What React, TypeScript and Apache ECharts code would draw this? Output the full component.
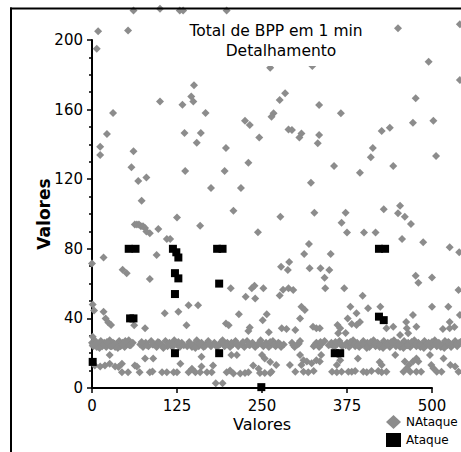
import React, { useEffect, useRef } from "react";
import * as echarts from "echarts";

// ---------- data ----------
const seriesNames = ["NAtaque", "Ataque"];
const xTickInterval = 125;
const yTickInterval = 40;
const xMax = 500;
const yMax = 200;
const xAxisTitle = "Valores";
const yAxisTitle = "Valores";
const titleLine1 = "Total de BPP em 1 min";
const titleLine2 = "Detalhamento";

// NAtaque (gray diamonds), upper part of the cloud
const nAtaqueHigh: number[][] = [
  [61, 217], [100, 218], [129, 217], [134, 217], [198, 217], [541, 209],
  [9, 205], [53, 205.5], [7, 195], [450, 206.7], [495, 187.5], [541, 177],
  [262, 184], [324, 185],
  [150, 174], [146, 167.6], [149, 164.7], [133, 162.8], [100, 164.7], [167, 158], [31, 158],
  [284, 169.4], [276, 165.5], [334, 162.6], [366, 157.9], [476, 166.5],
  [267, 157.9], [264, 155.9], [225, 153.6], [232, 151.1], [246, 144],
  [22, 146], [136, 146.5], [160, 146.5], [154, 141],
  [289, 148.6], [294, 148.3], [308, 146.3], [305, 144], [334, 145.4], [332, 140.6],
  [426, 147.7], [438, 149.6], [472, 152.5], [502, 153.6],
  [12, 138.6], [12, 133.9], [61, 136], [197, 138],
  [58, 126.8], [137, 124.7], [195, 124.7], [230, 129.5],
  [413, 138], [410, 132.6], [356, 127.6], [394, 123.7], [443, 127.6], [506, 133.3],
  [68, 119], [80, 121], [175, 115], [219, 115], [322, 118],
  [73, 107.6], [208, 101.9], [277, 98.4], [327, 100.7], [373, 100.7], [429, 102.7],
  [453, 104.8], [450, 100.4], [460, 98.4],
];

// NAtaque, middle part
const nAtaqueMid: number[][] = [
  [125, 98], [469, 94.3], [159, 93.3], [367, 95],
  [375, 89.3], [400, 89.3], [417, 89.3], [244, 89.5], [456, 85.6], [487, 83.7],
  [526, 80.9], [543, 83.7], [540, 78],
  [97.5, 91.4], [85, 89], [110, 85.6], [115, 85.6],
  [63, 94], [66, 94], [69, 94], [72, 93], [75, 93], [78, 92], [80, 90],
  [319, 82.8], [312, 77], [351, 77], [17, 75], [95, 76.4], [0, 71.6],
  [290, 72.4], [278, 69.7], [288, 67.8], [320, 68.8], [336, 68.8], [349, 67.8], [342, 63.4],
  [45, 68], [51, 66], [85, 62.6], [476, 64.5], [480, 60.5], [500, 63.5],
  [204, 57.3], [235, 57.3], [239, 58.8], [252, 57.3], [226, 52.5], [240, 51.5],
  [343, 57.3], [371, 57.3], [398, 53], [539, 56.3],
  [276, 53.2], [281, 56.5], [289, 57.3], [296, 56.3],
  [1, 48], [3, 44.6], [142, 47.5], [156, 47.5], [107, 42.9], [127, 43.8],
  [216, 42.4], [257, 42.4], [251, 39],
  [308, 46.7], [313, 44.8], [306, 40], [380, 46.7], [389, 42.9], [376, 40],
  [406, 45.8], [424, 46.7], [472, 42], [462, 38], [500, 46.7], [524, 46.7], [541, 42], [526, 38],
  [17, 43.8], [20, 40], [24, 37.7], [28, 36.2], [62, 36], [78, 34.3], [139, 36],
  [197, 37], [201, 36], [232, 34.7], [230, 32.8], [260, 32],
  [279, 34.3], [286, 33.9], [299, 33.3], [325, 35.2], [330, 34.3], [335, 34.3],
  [361, 36.2], [365, 34.3], [362, 31.4], [373, 31.6],
  [382, 36.8], [394, 38], [389, 36.2], [433, 34.3], [443, 35.2], [463, 34.3], [477, 35.2],
  [516, 33.9], [526, 34.3], [533, 35], [465, 31.4], [453, 30.5], [1, 29.5],
];

// NAtaque, dense band around 25
const nAtaqueBand: number[][] = [
  [0, 26], [2, 24], [5, 27], [7, 23.5], [10, 25], [13, 27], [15, 24], [18, 26], [21, 23.5],
  [23, 25.5], [26, 27.5], [29, 24], [31, 26], [34, 23.5], [37, 25], [40, 27], [42, 24],
  [45, 26], [48, 23.5], [51, 25], [54, 27.5], [57, 24.5],
  [71, 25], [75, 23.5], [79, 26], [83, 24], [87, 27], [91, 25], [95, 23.5], [99, 26], [103, 24.5],
  [108, 27], [111, 24], [114, 26], [118, 23.5], [121, 27.5], [125, 25], [129, 23.5], [132, 26],
  [140, 24], [143, 26.5], [147, 23.5], [150, 25], [154, 27.5], [157, 24], [161, 26], [164, 23.5],
  [168, 25.5], [171, 27], [175, 24],
  [180, 26], [184, 23.5], [188, 25], [192, 27.5], [195, 24], [199, 26], [203, 23.5], [207, 25],
  [211, 27], [215, 24],
  [220, 25.5], [224, 23.5], [228, 27], [232, 24.5], [236, 26], [240, 23.5], [244, 25], [248, 27.5],
  [252, 24], [256, 26], [260, 23.5], [264, 25],
  [266, 27], [270, 24], [274, 26], [278, 23.5], [282, 25],
  [294, 26], [298, 23.5], [302, 25], [306, 27],
  [326, 24], [330, 26], [334, 23.5], [338, 25.5], [342, 27],
  [348, 24.5], [352, 26], [356, 23.5], [360, 25], [364, 27], [368, 24],
  [375, 26], [378, 23.5], [381, 25], [384, 27.5], [387, 24], [390, 26], [393, 23.5], [396, 25],
  [399, 27], [402, 24.5], [405, 26], [408, 23.5], [411, 25], [414, 27.5], [417, 24], [420, 26],
  [423, 23.5], [426, 25], [429, 27], [432, 24.5], [435, 26], [438, 23.5], [441, 25], [444, 27.5],
  [447, 24], [450, 26], [453, 23.5], [456, 25], [459, 27], [462, 24.5], [465, 26], [468, 23.5],
  [471, 25], [474, 27.5], [477, 24], [480, 26], [483, 23.5], [486, 25], [489, 27], [492, 24.5],
  [495, 26], [498, 23.5], [501, 25], [504, 27.5], [507, 24], [510, 26], [513, 23.5], [516, 25],
  [519, 27], [522, 24.5], [525, 26], [528, 23.5], [531, 25], [534, 27], [537, 24], [540, 26], [543, 24.5],
];

// NAtaque, more points filling the band
const nAtaqueBand2: number[][] = [
  [1, 24.5], [6, 25.5], [11, 23], [17, 25], [22, 26.5], [27, 24], [33, 25.5], [38, 23], [44, 25],
  [49, 27], [55, 24.5], [60, 26], [73, 26.5], [81, 24.5], [89, 25], [97, 26.5], [105, 23],
  [113, 25.5], [119, 25], [127, 26.5], [135, 24.5], [145, 25], [152, 23], [159, 25.5], [166, 24],
  [173, 25.5], [182, 24.5], [190, 26.5], [197, 25], [205, 26], [213, 25.5], [222, 26.5], [230, 25],
  [238, 24.5], [246, 26], [254, 25], [262, 26.5], [268, 25], [276, 25.5], [296, 24.5], [304, 25.5],
  [328, 25], [336, 26.5], [350, 25], [358, 26.5], [366, 25.5], [373, 24.5], [380, 26.5], [386, 25.5],
  [392, 24.5], [398, 25], [404, 23], [410, 26.5], [416, 25.5], [422, 25], [428, 23], [434, 25],
  [440, 26.5], [446, 25.5], [452, 25], [458, 23], [464, 24.5], [470, 26.5], [476, 25.5], [482, 25],
  [488, 23], [494, 25.5], [500, 26.5], [506, 25.5], [512, 25], [518, 23], [524, 26.5], [530, 25],
  [536, 25.5], [542, 26.5],
];

// NAtaque, lower rows
const nAtaqueLow: number[][] = [
  [26, 19], [78, 17], [90, 17], [161, 18], [205, 19], [213, 19], [250, 19], [254, 17], [262, 15],
  [12, 12.3], [4, 13], [19, 13], [26, 14], [34, 12.3], [44, 14], [39, 12], [63, 13], [66, 12.3],
  [130, 14], [147, 11], [161, 12.3], [178, 13], [203, 10], [237, 13], [245, 11],
  [44, 9], [53, 9], [70, 9], [85, 9], [89, 9.5], [103, 9], [110, 9], [120, 9], [125, 9],
  [142, 9], [152, 9], [159, 9], [169, 9], [176, 9], [198, 9], [208, 8.4], [218, 8.4], [225, 8.6],
  [230, 9], [247, 8.6], [254, 8.6], [262, 8.6],
  [182, 2.7], [192, 2.7],
  [306, 19], [311, 16], [316, 15.3], [308, 13.2], [323, 14.2], [335, 15.3], [330, 16], [337, 19],
  [363, 19], [365, 16], [360, 13.2], [391, 17], [426, 13.2], [423, 15], [446, 19], [460, 15.3],
  [466, 13.2], [463, 11.3], [477, 17], [480, 15.3], [472, 15.3], [497, 19], [517, 17], [499, 13.2],
  [502, 11.3], [527, 13.2], [534, 12.3], [291, 13.2], [271, 13.2],
  [264, 9.4], [299, 9.4], [311, 9.4], [318, 9], [326, 9.8], [353, 9.4], [360, 9], [367, 9.4],
  [377, 9.4], [382, 9.4], [387, 9.8], [399, 9.4], [404, 9], [411, 9.8], [421, 9.8], [426, 9],
  [433, 9.4], [458, 9.4], [468, 9.4], [477, 9.4], [484, 9.4], [507, 9.4], [514, 9.4], [539, 9.4],
];

// Ataque (black squares)
const ataque: number[][] = [
  [1, 15], [54, 80], [64, 80], [56, 40], [61, 40],
  [119, 80], [124, 78], [127, 75], [122, 66], [127, 63], [122, 54], [122, 20],
  [184, 80], [192, 80], [187, 60], [187, 20], [249, 0.5],
  [357, 20], [365, 20], [422, 41], [429, 39], [422, 80], [431, 80],
];

// ---------- layout ----------
const W = 461;
const H = 452;
const PX0 = 92, PX1 = 432, PY0 = 388, PY1 = 40; // visible axes box
const pxPerX = (PX1 - PX0) / xMax;
const pxPerY = (PY0 - PY1) / yMax;
const DL = 82, DR = W, DT = 8, DB = 400; // data clip box
const hxMin = -(PX0 - DL) / pxPerX;
const hxMax = (DR - PX0) / pxPerX;
const hyMin = -(DB - PY0) / pxPerY;
const hyMax = (PY0 - DT) / pxPerY;
const FONT = "'DejaVu Sans', 'Liberation Sans', sans-serif";

export default function App() {
  const ref = useRef<HTMLDivElement>(null);
  useEffect(() => {
    if (!ref.current) return;
    const chart = echarts.init(ref.current, undefined, { renderer: "svg" });
    const axisText = { fontFamily: FONT, fontSize: 15, color: "#000" };
    chart.setOption({
      animation: false,
      backgroundColor: "#fff",
      grid: [
        { left: PX0, top: PY1, width: PX1 - PX0, height: PY0 - PY1, containLabel: false, outerBoundsMode: "none" },
        { left: DL, top: DT, width: DR - DL, height: DB - DT, containLabel: false, outerBoundsMode: "none" },
      ],
      xAxis: [
        {
          gridIndex: 0, type: "value", min: 0, max: xMax, interval: xTickInterval,
          name: xAxisTitle, nameLocation: "middle", nameGap: 28, nameMoveOverlap: false,
          nameTextStyle: { fontFamily: FONT, fontSize: 16, color: "#000" },
          axisLine: { show: true, onZero: false, lineStyle: { color: "#000", width: 2 } },
          axisTick: { show: true, length: 5, lineStyle: { color: "#000", width: 1.5 } },
          axisLabel: { ...axisText, margin: 10 },
          splitLine: { show: false },
        },
        { gridIndex: 1, type: "value", min: hxMin, max: hxMax, show: false, splitLine: { show: false } },
      ],
      yAxis: [
        {
          gridIndex: 0, type: "value", min: 0, max: yMax, interval: yTickInterval,
          name: yAxisTitle, nameLocation: "middle", nameGap: 40, nameMoveOverlap: false,
          nameTextStyle: { fontFamily: FONT, fontSize: 17, fontWeight: "bold", color: "#000" },
          axisLine: { show: true, onZero: false, lineStyle: { color: "#000", width: 2 } },
          axisTick: { show: true, length: 5, lineStyle: { color: "#000", width: 1.5 } },
          minorTick: { show: true, splitNumber: 4, length: 3, lineStyle: { color: "#000", width: 1.5 } },
          axisLabel: { ...axisText, margin: 9 },
          splitLine: { show: false },
          minorSplitLine: { show: false },
        },
        { gridIndex: 1, type: "value", min: hyMin, max: hyMax, show: false, splitLine: { show: false } },
      ],
      legend: {
        orient: "vertical", left: 386, top: 415, itemWidth: 15, itemHeight: 14, itemGap: 4,
        padding: 0,
        selectedMode: false,
        textStyle: { fontFamily: FONT, fontSize: 12, color: "#000" },
        data: [
          { name: seriesNames[0], icon: "diamond" },
          { name: seriesNames[1], icon: "rect" },
        ],
      },
      series: [
        {
          type: "scatter", name: seriesNames[0], xAxisIndex: 1, yAxisIndex: 1,
          symbol: "diamond", symbolSize: 8, clip: true, z: 2,
          itemStyle: { color: "#8c8c8c", opacity: 1 },
          data: [...nAtaqueHigh, ...nAtaqueMid, ...nAtaqueBand, ...nAtaqueBand2, ...nAtaqueLow],
        },
        {
          type: "scatter", name: seriesNames[1], xAxisIndex: 1, yAxisIndex: 1,
          symbol: "rect", symbolSize: 8, clip: true, z: 3,
          itemStyle: { color: "#000", opacity: 1 },
          data: ataque,
        },
      ],
      graphic: {
        elements: [
          { type: "rect", z: 50, shape: { x: 180, y: 15, width: 192, height: 51 }, style: { fill: "#fff" } },
          {
            type: "text", z: 51, x: 276, y: 31,
            style: { text: titleLine1, fill: "#000", fontFamily: FONT, fontSize: 15.5, align: "center", verticalAlign: "middle", textAlign: "center", textVerticalAlign: "middle" },
          },
          {
            type: "text", z: 51, x: 281, y: 51,
            style: { text: titleLine2, fill: "#000", fontFamily: FONT, fontSize: 15.5, align: "center", verticalAlign: "middle", textAlign: "center", textVerticalAlign: "middle" },
          },
          { type: "line", z: 60, shape: { x1: 10, y1: 8.5, x2: W, y2: 8.5 }, style: { stroke: "#000", lineWidth: 2 } },
          { type: "line", z: 60, shape: { x1: 11, y1: 7.5, x2: 11, y2: H }, style: { stroke: "#000", lineWidth: 2 } },
        ],
      },
    });
    return () => chart.dispose();
  }, []);
  return (
    <div
      ref={ref}
      style={{ position: "absolute", left: 0, top: 0, width: W, height: H, background: "#fff" }}
    />
  );
}
